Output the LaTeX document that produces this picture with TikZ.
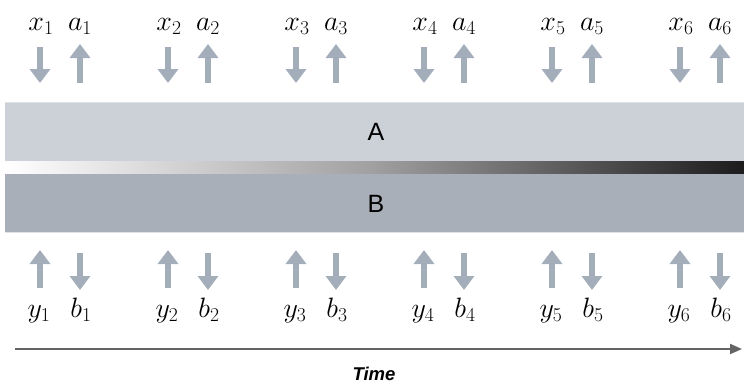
\RequirePackage{fix-cm}
\documentclass[tikz,border=0pt]{standalone}
\usepackage{fontspec}
\setsansfont{Liberation Sans}
\usetikzlibrary{arrows.meta}
\definecolor{arrowgrey}{RGB}{163,174,186}
\definecolor{bandA}{RGB}{204,209,216}
\definecolor{bandB}{RGB}{168,175,185}
\definecolor{bandedge}{RGB}{222,226,231}
\definecolor{axisgrey}{RGB}{100,100,100}
\definecolor{stripdark}{RGB}{28,28,28}
\tikzset{
  fatarrow/.style={draw=arrowgrey, line width=5.5pt,
    -{Triangle[width=20pt,length=14pt]}},
  mathlabel/.style={anchor=base, inner sep=0pt, font=\fontsize{28}{32}\selectfont},
  bandlabel/.style={font=\sffamily\fontsize{25}{30}\selectfont},
}
\begin{document}
\begin{tikzpicture}[x=1pt,y=-1pt]
  \useasboundingbox (0,0) rectangle (744,386);
  % the two bands and the shaded strip between them
  \fill[bandA] (5,102) rectangle (744,161);
  \draw[bandedge, line width=0.6pt] (5,102) -- (744,102);
  \shade[left color=white, right color=stripdark, middle color=gray!75] (5,161) rectangle (744,173.5);
  \fill[bandB] (5,173.5) rectangle (744,232.5);
  \draw[bandedge, line width=0.6pt] (5,232.5) -- (744,232.5);
  \node[bandlabel] (A) at (376,132) {A};
  \node[bandlabel] (B) at (376,204) {B};
  % inputs and outputs at each step
  \foreach \i in {1,...,6} {
    \pgfmathsetmacro{\xl}{40+128*(\i-1)}
    \pgfmathsetmacro{\xr}{80+128*(\i-1)}
    \node[mathlabel] (x\i) at (\xl+1,30) {$x_{\i}$};
    \node[mathlabel] (a\i) at (\xr,30) {$a_{\i}$};
    \node[mathlabel] (y\i) at (\xl-1,317) {$y_{\i}$};
    \node[mathlabel] (b\i) at (\xr+1,317) {$b_{\i}$};
    \coordinate (tx\i) at (\xl,47);
    \coordinate (bx\i) at (\xl,83);
    \coordinate (ta\i) at (\xr,44);
    \coordinate (ba\i) at (\xr,83);
    \coordinate (ty\i) at (\xl,250);
    \coordinate (by\i) at (\xl,288);
    \coordinate (tb\i) at (\xr,253);
    \coordinate (bb\i) at (\xr,290);
    \draw[fatarrow] (tx\i) -- (bx\i);
    \draw[fatarrow] (ba\i) -- (ta\i);
    \draw[fatarrow] (by\i) -- (ty\i);
    \draw[fatarrow] (tb\i) -- (bb\i);
  }
  % time axis
  \coordinate (t0) at (15,349);
  \coordinate (t1) at (742,349);
  \draw[axisgrey, line width=2pt, -{Triangle[width=10pt,length=12pt]}] (t0) -- (t1);
  \node[font=\sffamily\bfseries\itshape\fontsize{18.5}{22}\selectfont] (time) at (374,374) {Time};
\end{tikzpicture}
\end{document}
